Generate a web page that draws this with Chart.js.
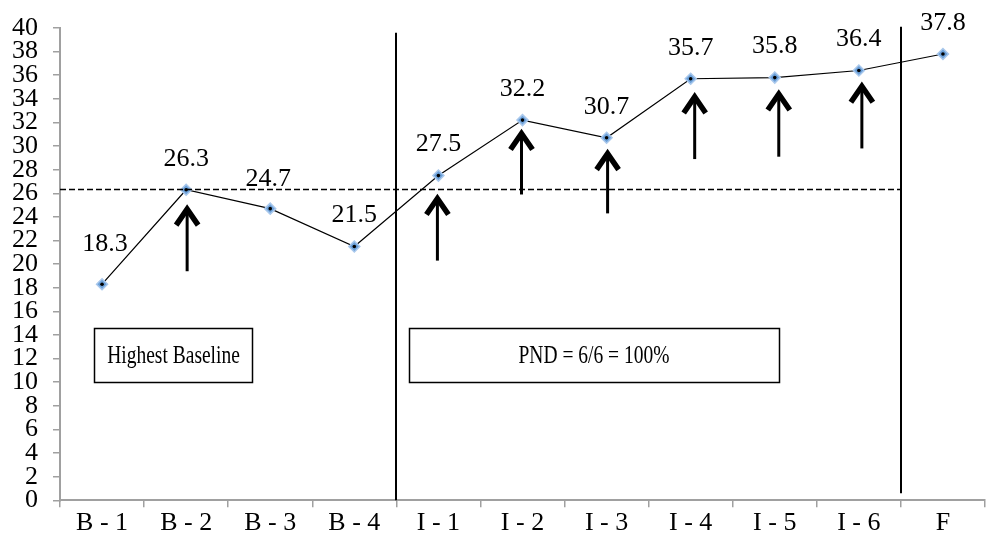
<!DOCTYPE html>
<html>
<head>
<meta charset="utf-8">
<script src="https://cdn.jsdelivr.net/npm/chart.js@4.4.1/dist/chart.umd.min.js"></script>
<style>
html,body{margin:0;padding:0;background:#fff;}
#wrap{width:992px;height:548px;position:relative;}
</style>
</head>
<body>
<div id="wrap"><canvas id="c" width="992" height="548"></canvas></div>
<script>
// ---- data ----
const categories = ['B - 1','B - 2','B - 3','B - 4','I - 1','I - 2','I - 3','I - 4','I - 5','I - 6','F'];
const scores = [18.3, 26.3, 24.7, 21.5, 27.5, 32.2, 30.7, 35.7, 35.8, 36.4, 37.8];
const yMin = 0, yMax = 40, yStep = 2;
const arrowCategories = ['B - 2','I - 1','I - 2','I - 3','I - 4','I - 5','I - 6'];
const arrowTips  = [25.0, 25.9, 31.4, 29.7, 34.5, 34.75, 35.4];
const arrowBases = [19.4, 20.3, 25.9, 24.3, 28.9, 29.1, 29.8];
const phaseChangesAfter = ['B - 4', 'I - 6'];
const highestBaseline = 26.3;
const boxTexts = ['Highest Baseline', 'PND = 6/6 = 100%'];

// ---- layout / style (not data) ----
const FONT = '"Liberation Serif", "Times New Roman", serif';
const labelOffsets = {0:{dx:3,dy:-40}, 2:{dx:-2,dy:-29}};
const arrowDx = [1, -1, -1, 1, 4, 4, 3];
const phaseLineSpan = [[39.6, 0], [40.1, 0.6]];
const boxes = [
  {x0:-0.09, x1:1.79, y0:14.6, y1:10.0},
  {x0:3.65, x1:8.05, y0:14.6, y1:10.0}
];

const overlay = {
  id: 'overlay',
  afterDatasetsDraw(chart) {
    const ctx = chart.ctx, xs = chart.scales.x, ys = chart.scales.y;
    const ca = chart.chartArea;
    ctx.save();
    // dashed highest-baseline line
    const iEnd = categories.indexOf(phaseChangesAfter[1]);
    const xEnd = (xs.getPixelForValue(iEnd) + xs.getPixelForValue(iEnd + 1)) / 2;
    ctx.strokeStyle = '#000';
    ctx.lineWidth = 1.5;
    ctx.setLineDash([6, 3]);
    ctx.beginPath();
    const yb = Math.round(ys.getPixelForValue(highestBaseline)) - 0.5;
    ctx.moveTo(ca.left, yb);
    ctx.lineTo(xEnd, yb);
    ctx.stroke();
    ctx.setLineDash([]);
    // phase change lines
    ctx.lineWidth = 2;
    phaseChangesAfter.forEach((c, k) => {
      const i = categories.indexOf(c);
      const x = Math.round((xs.getPixelForValue(i) + xs.getPixelForValue(i + 1)) / 2);
      ctx.beginPath();
      ctx.moveTo(x, ys.getPixelForValue(phaseLineSpan[k][0]));
      ctx.lineTo(x, ys.getPixelForValue(phaseLineSpan[k][1]));
      ctx.stroke();
    });
    // arrows
    arrowCategories.forEach((c, k) => {
      const x = xs.getPixelForValue(categories.indexOf(c)) + arrowDx[k];
      const yt = ys.getPixelForValue(arrowTips[k]);
      const yb2 = ys.getPixelForValue(arrowBases[k]);
      ctx.lineWidth = 3;
      ctx.lineCap = 'butt';
      ctx.beginPath();
      ctx.moveTo(x, yb2);
      ctx.lineTo(x, yt + 3);
      ctx.stroke();
      ctx.lineWidth = 5.5;
      ctx.lineJoin = 'miter';
      ctx.beginPath();
      ctx.moveTo(x - 11, yt + 20);
      ctx.lineTo(x, yt + 4);
      ctx.lineTo(x + 11, yt + 20);
      ctx.stroke();
    });
    // text boxes
    boxes.forEach((b, k) => {
      const x0 = xs.getPixelForValue(b.x0), x1 = xs.getPixelForValue(b.x1);
      const y0 = ys.getPixelForValue(b.y0), y1 = ys.getPixelForValue(b.y1);
      ctx.fillStyle = '#fff';
      ctx.fillRect(x0, y0, x1 - x0, y1 - y0);
      ctx.lineWidth = 1.5;
      ctx.strokeStyle = '#000';
      ctx.strokeRect(Math.round(x0) + 0.5, Math.round(y0) + 0.5, Math.round(x1 - x0), Math.round(y1 - y0));
      ctx.save();
      ctx.translate((x0 + x1) / 2, (y0 + y1) / 2 + 1);
      ctx.scale(1, 1.3);
      ctx.fillStyle = '#000';
      ctx.font = '19.5px ' + FONT;
      ctx.textAlign = 'center';
      ctx.textBaseline = 'middle';
      ctx.fillText(boxTexts[k], 0, 0);
      ctx.restore();
    });
    // data labels
    ctx.fillStyle = '#000';
    ctx.font = '26px ' + FONT;
    ctx.textAlign = 'center';
    ctx.textBaseline = 'middle';
    scores.forEach((v, i) => {
      const o = labelOffsets[i] || {dx:0, dy:-31};
      ctx.fillText(v.toFixed(1), xs.getPixelForValue(i) + o.dx, ys.getPixelForValue(v) + o.dy);
    });
    ctx.restore();
  }
};

new Chart(document.getElementById('c'), {
  type: 'line',
  data: {
    labels: categories,
    datasets: [
      {
        data: scores,
        borderColor: '#000',
        borderWidth: 1.2,
        pointStyle: 'rectRot',
        pointRadius: 5.5,
        pointBackgroundColor: '#6a9fd8',
        pointBorderColor: '#a9c8ec',
        pointBorderWidth: 1.5,
        tension: 0,
        order: 2
      },
      {
        data: scores,
        showLine: false,
        pointStyle: 'circle',
        pointRadius: 1.8,
        pointBackgroundColor: '#000',
        pointBorderWidth: 0,
        order: 1
      }
    ]
  },
  options: {
    responsive: false,
    animation: false,
    layout: {padding: {top: 20, right: 0, left: 0, bottom: 0}},
    plugins: {legend: {display: false}, tooltip: {enabled: false}},
    scales: {
      x: {
        type: 'category',
        offset: true,
        grid: {offset: true, drawOnChartArea: false, drawTicks: true, tickLength: 7, color: '#a0a0a0', lineWidth: 1.5},
        border: {color: '#a0a0a0', width: 2},
        ticks: {color: '#000', font: {family: FONT, size: 26}, maxRotation: 0, autoSkip: false, padding: 0},
        afterFit(s) { s.height = 47.7; }
      },
      y: {
        min: yMin, max: yMax,
        grid: {drawOnChartArea: false, drawTicks: true, tickLength: 7, color: '#a0a0a0', lineWidth: 1.5},
        border: {color: '#a0a0a0', width: 2},
        ticks: {stepSize: yStep, autoSkip: false, color: '#000', font: {family: FONT, size: 26, lineHeight: 1}, padding: 15},
        afterFit(s) { s.width = 60; }
      }
    }
  },
  plugins: [overlay]
});
</script>
</body>
</html>
